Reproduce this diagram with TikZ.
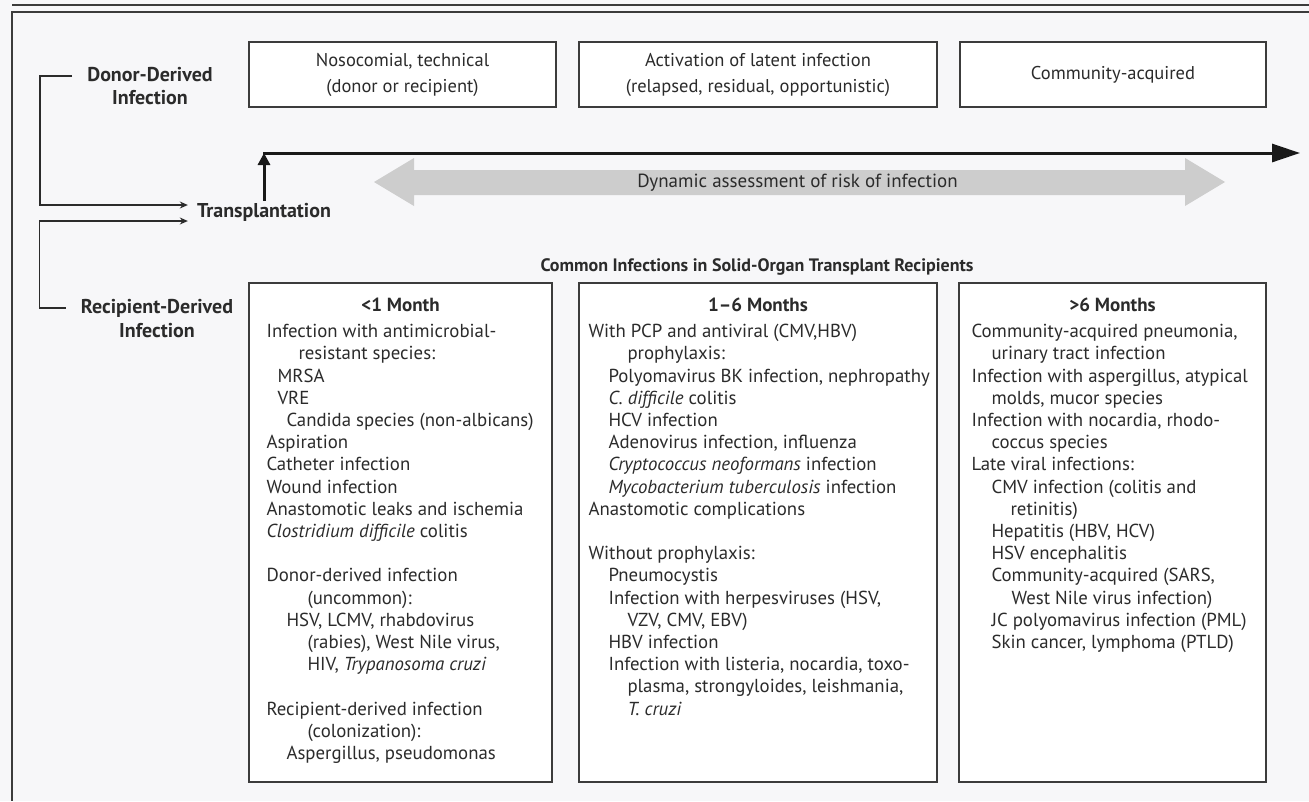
\documentclass[tikz,border=0pt]{standalone}
\usepackage{fontspec}
\setmainfont{PT Sans}
\usetikzlibrary{arrows.meta}
\definecolor{ink}{HTML}{2B2B2B}
\definecolor{bg}{HTML}{F7F7F9}
\definecolor{edge}{HTML}{3C3C3C}
\definecolor{band}{HTML}{CDCDCD}
\begin{document}
\begin{tikzpicture}[x=1pt,y=-1pt,
  phasebox/.style={draw=edge, line width=1.3pt, fill=white, minimum height=65pt, inner sep=0pt, align=center, text=ink, font=\fontsize{18.5}{26}\selectfont},
  periodbox/.style={draw=edge, line width=1.3pt, fill=white, minimum height=499pt, inner sep=0pt},
  lbl/.style={inner sep=0pt, align=center, text=ink, font=\bfseries\fontsize{20}{23.5}\selectfont},
  ptitle/.style={anchor=base, inner sep=0pt, text=ink, font=\bfseries\fontsize{19}{22}\selectfont},
  plist/.style={anchor=north west, inner sep=0pt, align=left, text=ink, font=\fontsize{18.8}{22.2}\selectfont},
  conn/.style={draw=ink, line width=1.3pt, -{Stealth[length=8pt,width=7pt]}},
  heavy/.style={draw=black!90, line width=3pt}
]
\fill[bg] (0,0) rectangle (1309,801);
\useasboundingbox (0,0) rectangle (1309,801);
% frame
\draw[edge, line width=2pt] (12,5) -- (1309,5);
\draw[edge, line width=1.5pt] (1309,12) -- (12,12) -- (12,801);

% phase boxes
\node[phasebox, minimum width=307pt] (ph1) at (402.5,74.5) {Nosocomial, technical\\(donor or recipient)};
\node[phasebox, minimum width=358pt] (ph2) at (758,74.5) {Activation of latent infection\\(relapsed, residual, opportunistic)};
\node[phasebox, minimum width=306pt] (ph3) at (1113,74.5) {Community-acquired};

% left labels
\node[lbl] (donor) at (150,86) {Donor-Derived\\Infection};
\node[lbl] (recip) at (157,318.5) {Recipient-Derived\\Infection};
\node[lbl] (transp) at (264,212) {Transplantation};

\draw[conn] ([xshift=-15pt,yshift=10pt]donor.west) -- ++(-32,0) |- ([xshift=-9pt,yshift=7pt]transp.west);
\draw[conn] ([xshift=-15pt,yshift=10.5pt]recip.west) -- ++(-26,0) |- ([xshift=-9pt,yshift=-9pt]transp.west);

% timeline
\coordinate (t0) at (263,153);
\coordinate (t1) at (1300,153);
\draw[heavy, -{Triangle[length=28pt,width=18pt]}] (t0) -- (t1);
\draw[heavy, -{Triangle[length=12pt,width=12pt]}] ([yshift=2pt]transp.north) -- (transp.north |- t0);

% risk band
\fill[band] (374,182) -- (414,158) -- (414,170) -- (1185,170) -- (1185,158) -- (1225,182)
  -- (1185,206) -- (1185,195) -- (414,195) -- (414,206) -- cycle;
\node[inner sep=0pt, text=ink, font=\fontsize{19}{22}\selectfont] (dyn) at (797.5,182.5) {Dynamic assessment of risk of infection};

% title
\node[inner sep=0pt, text=ink, font=\bfseries\fontsize{18}{22}\selectfont] (common) at (757,267) {Common Infections in Solid-Organ Transplant Recipients};

% period boxes
\node[periodbox, minimum width=303pt] (bA) at (400.5,532.5) {};
\node[periodbox, minimum width=358pt] (bB) at (758,532.5) {};
\node[periodbox, minimum width=307pt] (bC) at (1112.5,532.5) {};

\node[ptitle] (tA) at ([yshift=-29pt]bA.north) {<1 Month};
\node[ptitle] (tB) at ([yshift=-29pt]bB.north) {1–6 Months};
\node[ptitle] (tC) at ([yshift=-29pt]bC.north) {>6 Months};

\node[plist] (lA) at ([xshift=18pt,yshift=-39.5pt]bA.north west) {\strut Infection with antimicrobial-\\
\hspace*{32pt}resistant species:\\
\hspace*{11pt}MRSA\\
\hspace*{11pt}VRE\\
\hspace*{20pt}Candida species (non-albicans)\\
Aspiration\\
Catheter infection\\
Wound infection\\
Anastomotic leaks and ischemia\\
\textit{Clostridium difficile} colitis\\[22.2pt]
Donor-derived infection\\
\hspace*{41pt}(uncommon):\\
\hspace*{20pt}HSV, LCMV, rhabdovirus\\
\hspace*{41pt}(rabies), West Nile virus,\\
\hspace*{41pt}HIV, \textit{Trypanosoma cruzi}\\[22.2pt]
Recipient-derived infection\\
\hspace*{41pt}(colonization):\\
\hspace*{20pt}Aspergillus, pseudomonas};

\node[plist] (lB) at ([xshift=10pt,yshift=-39.5pt]bB.north west) {\strut With PCP and antiviral (CMV,HBV)\\
\hspace*{39pt}prophylaxis:\\
\hspace*{20pt}Polyomavirus BK infection, nephropathy\\
\hspace*{20pt}\textit{C. difficile} colitis\\
\hspace*{20pt}HCV infection\\
\hspace*{20pt}Adenovirus infection, influenza\\
\hspace*{20pt}\textit{Cryptococcus neoformans} infection\\
\hspace*{20pt}\textit{Mycobacterium tuberculosis} infection\\
Anastomotic complications\\[22.2pt]
Without prophylaxis:\\
\hspace*{20pt}Pneumocystis\\
\hspace*{20pt}Infection with herpesviruses (HSV,\\
\hspace*{39pt}VZV, CMV, EBV)\\
\hspace*{20pt}HBV infection\\
\hspace*{20pt}Infection with listeria, nocardia, toxo-\\
\hspace*{39pt}plasma, strongyloides, leishmania,\\
\hspace*{39pt}\textit{T. cruzi}};

\node[plist] (lC) at ([xshift=13pt,yshift=-39.5pt]bC.north west) {\strut Community-acquired pneumonia,\\
\hspace*{20pt}urinary tract infection\\
Infection with aspergillus, atypical\\
\hspace*{20pt}molds, mucor species\\
Infection with nocardia, rhodo-\\
\hspace*{20pt}coccus species\\
Late viral infections:\\
\hspace*{20pt}CMV infection (colitis and\\
\hspace*{39pt}retinitis)\\
\hspace*{20pt}Hepatitis (HBV, HCV)\\
\hspace*{20pt}HSV encephalitis\\
\hspace*{20pt}Community-acquired (SARS,\\
\hspace*{40pt}West Nile virus infection)\\
\hspace*{20pt}JC polyomavirus infection (PML)\\
\hspace*{20pt}Skin cancer, lymphoma (PTLD)};
\end{tikzpicture}
\end{document}
